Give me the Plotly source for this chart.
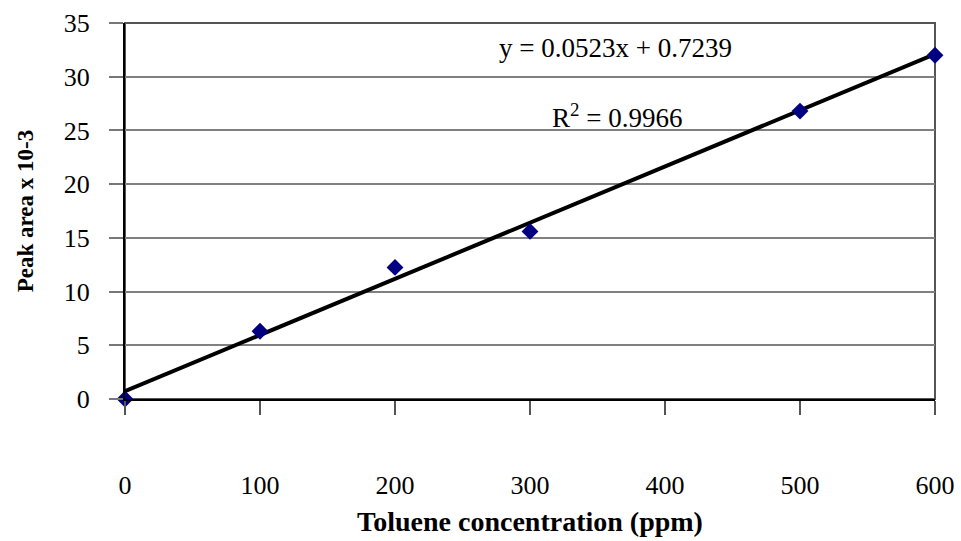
import plotly.graph_objects as go

conc = [0, 100, 200, 300, 500, 600]
area = [0.0, 6.3, 12.25, 15.6, 26.8, 32.0]
slope = 0.0523
intercept = 0.7239
fit_x = [0, 600]
fit_y = [intercept + slope * v for v in fit_x]
x_ticks = [0, 100, 200, 300, 400, 500, 600]
y_ticks = [0, 5, 10, 15, 20, 25, 30, 35]

FONT = "Liberation Serif, Times New Roman, serif"

fig = go.Figure()
fig.add_trace(go.Scatter(x=fit_x, y=fit_y, mode="lines",
                         line=dict(color="black", width=4), showlegend=False,
                         hoverinfo="skip"))
fig.add_trace(go.Scatter(x=conc, y=area, mode="markers",
                         marker=dict(symbol="diamond", color="#000080", size=13,
                                     line=dict(width=0)),
                         showlegend=False, cliponaxis=False))

fig.update_layout(
    width=961, height=541,
    margin=dict(l=125, r=26, t=23, b=142),
    paper_bgcolor="white", plot_bgcolor="white",
    font=dict(family=FONT, size=26, color="black"),
    xaxis=dict(range=[0, 600], tickvals=x_ticks, ticks="outside", ticklen=14,
               tickcolor="#555", tickwidth=1.5, showgrid=False, zeroline=False,
               showline=True, linecolor="black", linewidth=2, automargin=False,
               ticklabelstandoff=48, tickfont=dict(size=26),
               title=dict(text="<b>Toluene concentration (ppm)</b>",
                          font=dict(size=28), standoff=12)),
    yaxis=dict(range=[0, 35], tickvals=y_ticks, ticks="outside", ticklen=14,
               tickcolor="#777", tickwidth=1.5, showgrid=True, gridcolor="#808080",
               gridwidth=1.5, zeroline=False, showline=True, linecolor="black",
               linewidth=2, ticklabelstandoff=14, tickfont=dict(size=26),
               automargin=False,
               title=dict(text="<b>Peak area x 10-3</b>", font=dict(size=23),
                          standoff=24)),
    shapes=[dict(type="rect", xref="paper", yref="paper", x0=0, x1=1, y0=0, y1=1,
                 line=dict(color="#555", width=2), layer="below")],
    annotations=[
        dict(x=0.605, y=0.934, xref="paper", yref="paper",
             text="y = 0.0523x + 0.7239", showarrow=False,
             font=dict(size=27), xanchor="center", yanchor="middle"),
        dict(x=0.607, y=0.752, xref="paper", yref="paper",
             text="R<sup>2</sup> = 0.9966", showarrow=False,
             font=dict(size=27), xanchor="center", yanchor="middle"),
    ],
)

fig.write_html("out.html")
